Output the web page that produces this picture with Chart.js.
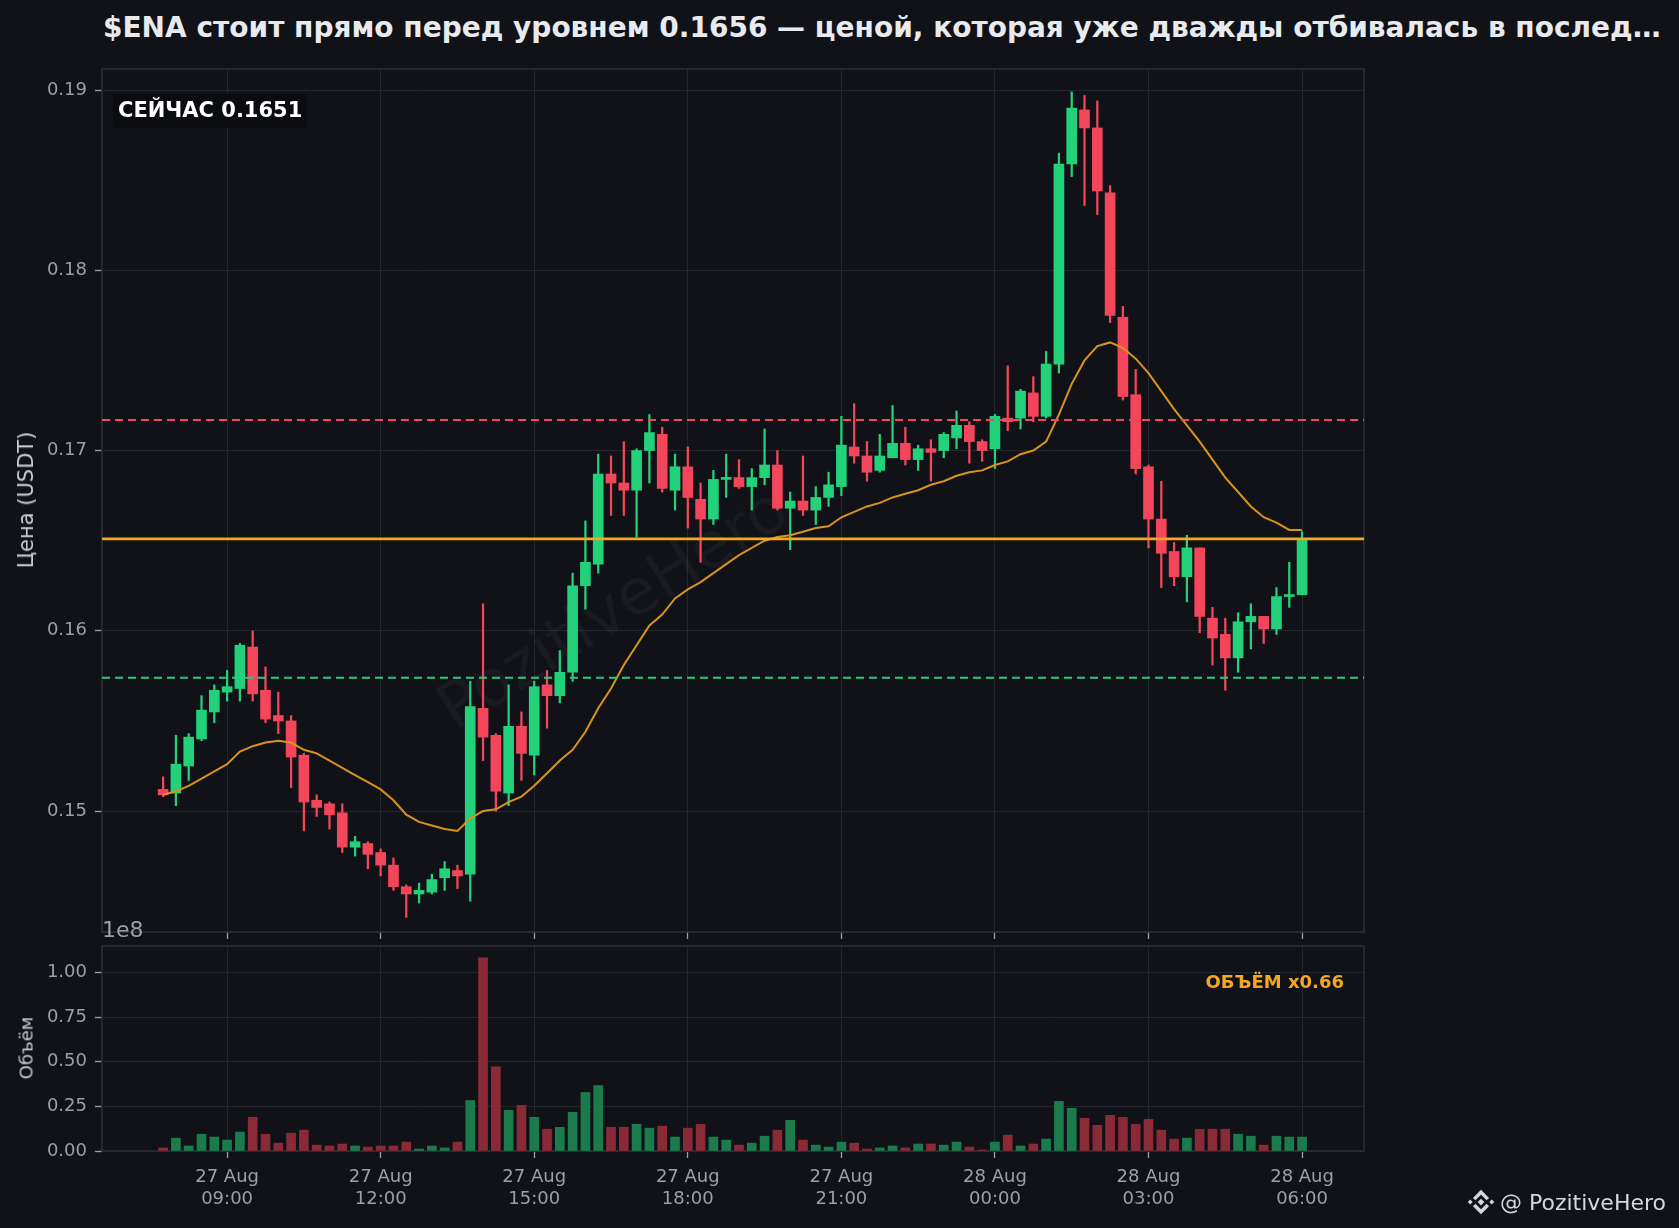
<!DOCTYPE html>
<html lang="ru">
<head>
<meta charset="utf-8">
<title>$ENA</title>
<script src="https://cdn.jsdelivr.net/npm/chart.js@4.4.1/dist/chart.umd.min.js"></script>
<style>
  html, body { margin: 0; padding: 0; background: #101217; }
  body { width: 1679px; height: 1228px; position: relative; overflow: hidden; font-family: "DejaVu Sans", sans-serif; }
  canvas { position: absolute; left: 0; }
  #priceChart { top: 0; }
  #volumeChart { top: 940px; }
  #title { position: absolute; left: 103px; top: 12px; line-height: 32px; font-size: 28px; font-weight: bold; color: #e8eaee; white-space: nowrap; }
  .ylab { position: absolute; color: #c9cdd3; white-space: nowrap; transform: translate(-50%, -50%) rotate(-90deg); }
  #offset { position: absolute; left: 102px; top: 917px; font-size: 22px; line-height: 26px; color: #9aa0a8; }
  #brand { position: absolute; left: 1466px; top: 1187px; display: flex; align-items: center; color: #d5d7db; font-size: 22px; white-space: pre; }
  #brand svg { margin-right: 4px; }
</style>
</head>
<body>
<div id="title">$ENA стоит прямо перед уровнем 0.1656 — ценой, которая уже дважды отбивалась в послед…</div>
<canvas id="priceChart" width="1679" height="945"></canvas>
<canvas id="volumeChart" width="1679" height="288"></canvas>
<div class="ylab" style="left:26px; top:500px; font-size:21px;">Цена (USDT)</div>
<div class="ylab" style="left:26px; top:1048px; font-size:18px;">Объём</div>
<div id="offset">1e8</div>
<div id="brand">
  <svg width="30" height="30" viewBox="0 0 32 32"><g fill="#d5d7db">
    <polygon points="16,12.4 19.6,16 16,19.6 12.4,16"/>
    <polygon points="4.5,13.4 7.1,16 4.5,18.6 1.9,16"/>
    <polygon points="27.5,13.4 30.1,16 27.5,18.6 24.9,16"/>
    <polygon points="16,3 24.6,11.6 22,14.2 16,8.2 10,14.2 7.4,11.6"/>
    <polygon points="16,29 24.6,20.4 22,17.8 16,23.8 10,17.8 7.4,20.4"/>
  </g></svg>
  <span>@ PozitiveHero</span>
</div>
<script>
// Свечи 15m, $ENA/USDT, 27 Aug 07:45 -> 28 Aug 06:00
const firstCandleHour = 7.75;   // часы от 27 Aug 00:00
const candleStepHours = 0.25;

const opens = [
  0.1512, 0.1510, 0.1525, 0.1540, 0.1555, 0.1566, 0.1568, 0.1591, 0.1567, 0.1553,
  0.1550, 0.1531, 0.1506, 0.1504, 0.1499, 0.1480, 0.1482, 0.1477, 0.1470, 0.1458,
  0.1454, 0.1455, 0.1463, 0.1467, 0.1465, 0.1557, 0.1542, 0.1510, 0.1547, 0.1531,
  0.1570, 0.1564, 0.1577, 0.1625, 0.1637, 0.1687, 0.1682, 0.1678, 0.1700, 0.1709,
  0.1678, 0.1691, 0.1673, 0.1662, 0.1684, 0.1685, 0.1680, 0.1685, 0.1692, 0.1668,
  0.1672, 0.1667, 0.1674, 0.1680, 0.1702, 0.1697, 0.1689, 0.1696, 0.1704, 0.1695,
  0.1701, 0.1700, 0.1707, 0.1714, 0.1705, 0.1701, 0.1718, 0.1718, 0.1732, 0.1719,
  0.1748, 0.1859, 0.1889, 0.1879, 0.1843, 0.1774, 0.1731, 0.1691, 0.1662, 0.1644,
  0.1630, 0.1646, 0.1607, 0.1598, 0.1585, 0.1605, 0.1608, 0.1601, 0.1619, 0.1620
];
const highs = [
  0.1519, 0.1542, 0.1543, 0.1564, 0.1570, 0.1578, 0.1593, 0.1600, 0.1580, 0.1566,
  0.1553, 0.1532, 0.1509, 0.1505, 0.1504, 0.1486, 0.1483, 0.1479, 0.1474, 0.1459,
  0.1460, 0.1465, 0.1472, 0.1470, 0.1572, 0.1615, 0.1543, 0.1570, 0.1555, 0.1572,
  0.1578, 0.1589, 0.1632, 0.1661, 0.1698, 0.1697, 0.1705, 0.1701, 0.1720, 0.1713,
  0.1698, 0.1702, 0.1682, 0.1689, 0.1698, 0.1695, 0.1690, 0.1712, 0.1700, 0.1677,
  0.1697, 0.1680, 0.1688, 0.1719, 0.1726, 0.1705, 0.1709, 0.1725, 0.1713, 0.1703,
  0.1706, 0.1710, 0.1722, 0.1716, 0.1706, 0.1720, 0.1747, 0.1734, 0.1741, 0.1755,
  0.1865, 0.1899, 0.1897, 0.1894, 0.1847, 0.1780, 0.1745, 0.1692, 0.1683, 0.1649,
  0.1653, 0.1646, 0.1613, 0.1607, 0.1610, 0.1615, 0.1608, 0.1624, 0.1638, 0.1655
];
const lows = [
  0.1508, 0.1503, 0.1517, 0.1539, 0.1549, 0.1561, 0.1561, 0.1561, 0.1549, 0.1543,
  0.1513, 0.1489, 0.1497, 0.1490, 0.1477, 0.1475, 0.1468, 0.1464, 0.1456, 0.1441,
  0.1449, 0.1454, 0.1456, 0.1457, 0.1450, 0.1528, 0.1500, 0.1503, 0.1517, 0.1520,
  0.1546, 0.1560, 0.1572, 0.1612, 0.1632, 0.1664, 0.1664, 0.1652, 0.1682, 0.1677,
  0.1667, 0.1657, 0.1638, 0.1659, 0.1674, 0.1679, 0.1667, 0.1681, 0.1667, 0.1645,
  0.1664, 0.1659, 0.1669, 0.1675, 0.1693, 0.1683, 0.1688, 0.1696, 0.1692, 0.1689,
  0.1683, 0.1696, 0.1701, 0.1693, 0.1694, 0.1690, 0.1711, 0.1712, 0.1716, 0.1718,
  0.1743, 0.1852, 0.1836, 0.1831, 0.1771, 0.1728, 0.1687, 0.1646, 0.1624, 0.1625,
  0.1616, 0.1599, 0.1581, 0.1567, 0.1577, 0.1590, 0.1593, 0.1598, 0.1613, 0.1620
];
const closes = [
  0.1509, 0.1526, 0.1541, 0.1556, 0.1567, 0.1569, 0.1592, 0.1565, 0.1551, 0.1550,
  0.1530, 0.1505, 0.1502, 0.1498, 0.1480, 0.1483, 0.1476, 0.1470, 0.1458, 0.1454,
  0.1456, 0.1462, 0.1468, 0.1464, 0.1558, 0.1541, 0.1511, 0.1547, 0.1532, 0.1569,
  0.1564, 0.1577, 0.1625, 0.1638, 0.1687, 0.1682, 0.1678, 0.1700, 0.1710, 0.1679,
  0.1691, 0.1674, 0.1662, 0.1684, 0.1685, 0.1680, 0.1685, 0.1692, 0.1668, 0.1672,
  0.1667, 0.1674, 0.1681, 0.1703, 0.1697, 0.1688, 0.1697, 0.1704, 0.1695, 0.1701,
  0.1699, 0.1709, 0.1714, 0.1705, 0.1700, 0.1719, 0.1716, 0.1733, 0.1719, 0.1748,
  0.1859, 0.1890, 0.1879, 0.1844, 0.1775, 0.1730, 0.1690, 0.1662, 0.1643, 0.1630,
  0.1646, 0.1608, 0.1596, 0.1585, 0.1605, 0.1608, 0.1601, 0.1619, 0.1620, 0.1651
];
// скользящая средняя
const maValues = [
  0.1509, 0.1511, 0.1514, 0.1518, 0.1522, 0.1526, 0.1533, 0.1536, 0.1538, 0.1539,
  0.1538, 0.1534, 0.1532, 0.1528, 0.1524, 0.1520, 0.1516, 0.1512, 0.1506, 0.1498,
  0.1494, 0.1492, 0.1490, 0.1489, 0.1496, 0.1500, 0.1501, 0.1505, 0.1508, 0.1514,
  0.1521, 0.1528, 0.1534, 0.1544, 0.1557, 0.1568, 0.1581, 0.1592, 0.1603, 0.1609,
  0.1618, 0.1623, 0.1627, 0.1632, 0.1637, 0.1642, 0.1646, 0.1650, 0.1652, 0.1653,
  0.1655, 0.1657, 0.1658, 0.1663, 0.1666, 0.1669, 0.1671, 0.1674, 0.1676, 0.1678,
  0.1681, 0.1683, 0.1686, 0.1688, 0.1689, 0.1692, 0.1694, 0.1698, 0.1700, 0.1705,
  0.1720, 0.1737, 0.1750, 0.1758, 0.1760, 0.1757, 0.1751, 0.1743, 0.1733, 0.1723,
  0.1714, 0.1705, 0.1695, 0.1685, 0.1677, 0.1669, 0.1663, 0.1660, 0.1656, 0.1656
];
// объём, x1e8
const volumes = [
  0.017, 0.072, 0.028, 0.094, 0.078, 0.061, 0.106, 0.189, 0.094, 0.044,
  0.100, 0.117, 0.033, 0.028, 0.039, 0.028, 0.022, 0.028, 0.028, 0.050,
  0.011, 0.028, 0.017, 0.050, 0.283, 1.083, 0.472, 0.228, 0.256, 0.189,
  0.122, 0.133, 0.217, 0.328, 0.367, 0.133, 0.133, 0.150, 0.128, 0.139,
  0.078, 0.128, 0.150, 0.078, 0.061, 0.033, 0.044, 0.083, 0.117, 0.172,
  0.061, 0.033, 0.022, 0.050, 0.044, 0.011, 0.017, 0.028, 0.017, 0.039,
  0.039, 0.033, 0.050, 0.022, 0.006, 0.050, 0.089, 0.028, 0.039, 0.067,
  0.278, 0.239, 0.183, 0.144, 0.200, 0.189, 0.150, 0.178, 0.117, 0.067,
  0.072, 0.122, 0.122, 0.122, 0.094, 0.083, 0.033, 0.083, 0.078, 0.078
];

// уровни
const nowPrice = 0.1651;
const resistanceLevel = 0.1717;
const supportLevel = 0.1574;
const volumeRatio = 0.66;

// оси
const xTickHours = [9, 12, 15, 18, 21, 24, 27, 30];
const xTickLabels = [
  ['27 Aug', '09:00'], ['27 Aug', '12:00'], ['27 Aug', '15:00'], ['27 Aug', '18:00'],
  ['27 Aug', '21:00'], ['28 Aug', '00:00'], ['28 Aug', '03:00'], ['28 Aug', '06:00']
];
const priceTicks = [0.15, 0.16, 0.17, 0.18, 0.19];
const volumeTicks = [0, 0.25, 0.5, 0.75, 1.0];

const xMin = 6.556, xMax = 31.21;
const priceMin = 0.14329, priceMax = 0.19117;
const volMin = 0, volMax = 1.149;

const GREEN = '#22d17a', RED = '#f4465a';
const VOL_GREEN = '#1c7b4d', VOL_RED = '#8a2a37';
const GRID = '#22262d', FRAME = '#2b2f37', TICK = '#9aa0a8';
const FONT = '"DejaVu Sans", sans-serif';

const times = opens.map((_, i) => firstCandleHour + i * candleStepHours);
const isUp = opens.map((o, i) => closes[i] >= o);
const candleColors = isUp.map(u => u ? GREEN : RED);
const volColors = isUp.map(u => u ? VOL_GREEN : VOL_RED);

function hLine(level) {
  return [{ x: xMin, y: level }, { x: xMax, y: level }];
}

// рамка вокруг области графика
const framePlugin = {
  id: 'frame',
  beforeDatasetsDraw(chart) {
    const a = chart.chartArea, ctx = chart.ctx;
    ctx.save();
    ctx.strokeStyle = FRAME;
    ctx.lineWidth = 1.6;
    ctx.strokeRect(a.left, a.top, a.right - a.left, a.bottom - a.top);
    ctx.restore();
  }
};

const watermarkPlugin = {
  id: 'watermark',
  beforeDatasetsDraw(chart) {
    const a = chart.chartArea, ctx = chart.ctx;
    ctx.save();
    ctx.beginPath();
    ctx.rect(a.left, a.top, a.right - a.left, a.bottom - a.top);
    ctx.clip();
    ctx.translate(615, 612);
    ctx.rotate(-32 * Math.PI / 180);
    ctx.font = '64px ' + FONT;
    ctx.fillStyle = 'rgba(255,255,255,0.04)';
    ctx.textAlign = 'center';
    ctx.textBaseline = 'middle';
    ctx.fillText('PozitiveHero', 0, 0);
    ctx.restore();
  }
};

const nowLabelPlugin = {
  id: 'nowLabel',
  afterDraw(chart) {
    const ctx = chart.ctx;
    const text = 'СЕЙЧАС ' + nowPrice.toFixed(4);
    ctx.save();
    ctx.font = 'bold 21px ' + FONT;
    const w = ctx.measureText(text).width;
    ctx.fillStyle = '#0a0c10';
    ctx.beginPath();
    ctx.roundRect(113, 94, w + 10, 34, 4);
    ctx.fill();
    ctx.fillStyle = '#ffffff';
    ctx.textBaseline = 'middle';
    ctx.fillText(text, 118, 112);
    ctx.restore();
  }
};

const volLabelPlugin = {
  id: 'volLabel',
  afterDraw(chart) {
    const ctx = chart.ctx, a = chart.chartArea;
    ctx.save();
    ctx.font = 'bold 18px ' + FONT;
    ctx.fillStyle = '#f5a623';
    ctx.textAlign = 'right';
    ctx.textBaseline = 'middle';
    ctx.fillText('ОБЪЁМ x' + volumeRatio.toFixed(2), a.right - 20, a.top + 37);
    ctx.restore();
  }
};

function xScale(showLabels, height) {
  return {
    type: 'linear', min: xMin, max: xMax, offset: false,
    afterBuildTicks: s => { s.ticks = xTickHours.map(v => ({ value: v })); },
    afterFit: s => { s.height = height; },
    grid: { color: GRID, lineWidth: 1, offset: false, drawTicks: true, tickLength: 7, tickColor: TICK, tickWidth: 1.3 },
    border: { display: false },
    ticks: {
      display: showLabels, maxRotation: 0, autoSkip: false, padding: 9,
      color: TICK, font: { family: FONT, size: 18, lineHeight: 1.18 },
      callback: (v, i) => xTickLabels[i]
    }
  };
}

function yScale(min, max, tickVals) {
  return {
    type: 'linear', min: min, max: max,
    afterBuildTicks: s => { s.ticks = tickVals.map(v => ({ value: v })); },
    // фиксированная ширина оси и без авто-отступов сверху/снизу
    afterFit: s => { s.width = 102; s.paddingTop = 0; s.paddingBottom = 0; },
    grid: { color: GRID, lineWidth: 1, drawTicks: true, tickLength: 7, tickColor: TICK, tickWidth: 1.3 },
    border: { display: false },
    ticks: { color: TICK, padding: 8, font: { family: FONT, size: 18 }, callback: v => v.toFixed(2) }
  };
}

new Chart(document.getElementById('priceChart'), {
  type: 'bar',
  data: {
    datasets: [
      { type: 'line', label: 'now', data: hLine(nowPrice), borderColor: '#f5a623', borderWidth: 2.6, pointRadius: 0, order: 0 },
      { type: 'line', label: 'resistance', data: hLine(resistanceLevel), borderColor: RED, borderWidth: 2, borderDash: [8, 5], pointRadius: 0, order: 1 },
      { type: 'line', label: 'support', data: hLine(supportLevel), borderColor: GREEN, borderWidth: 2, borderDash: [8, 5], pointRadius: 0, order: 1 },
      { type: 'line', label: 'MA', data: times.map((t, i) => ({ x: t, y: maValues[i] })), borderColor: '#d8931c', borderWidth: 2, pointRadius: 0, tension: 0, order: 2 },
      { label: 'body', data: times.map((t, i) => ({ x: t, y: [opens[i], closes[i]] })), backgroundColor: candleColors, barThickness: 10, minBarLength: 2, grouped: false, order: 3 },
      { label: 'wick', data: times.map((t, i) => ({ x: t, y: [lows[i], highs[i]] })), backgroundColor: candleColors, barThickness: 1.6, grouped: false, order: 4 }
    ]
  },
  options: {
    responsive: false, animation: false, devicePixelRatio: 1, events: [],
    layout: { autoPadding: false, padding: { left: 0, top: 69, right: 315, bottom: 0 } },
    plugins: { legend: { display: false }, tooltip: { enabled: false }, title: { display: false } },
    scales: { x: xScale(false, 13), y: yScale(priceMin, priceMax, priceTicks) }
  },
  plugins: [framePlugin, watermarkPlugin, nowLabelPlugin]
});

new Chart(document.getElementById('volumeChart'), {
  type: 'bar',
  data: {
    datasets: [
      { label: 'volume', data: times.map((t, i) => ({ x: t, y: volumes[i] })), backgroundColor: volColors, barThickness: 9, grouped: false }
    ]
  },
  options: {
    responsive: false, animation: false, devicePixelRatio: 1, events: [],
    layout: { autoPadding: false, padding: { left: 0, top: 6, right: 315, bottom: 0 } },
    plugins: { legend: { display: false }, tooltip: { enabled: false } },
    scales: { x: xScale(true, 77), y: yScale(volMin, volMax, volumeTicks) }
  },
  plugins: [framePlugin, volLabelPlugin]
});
</script>
</body>
</html>
